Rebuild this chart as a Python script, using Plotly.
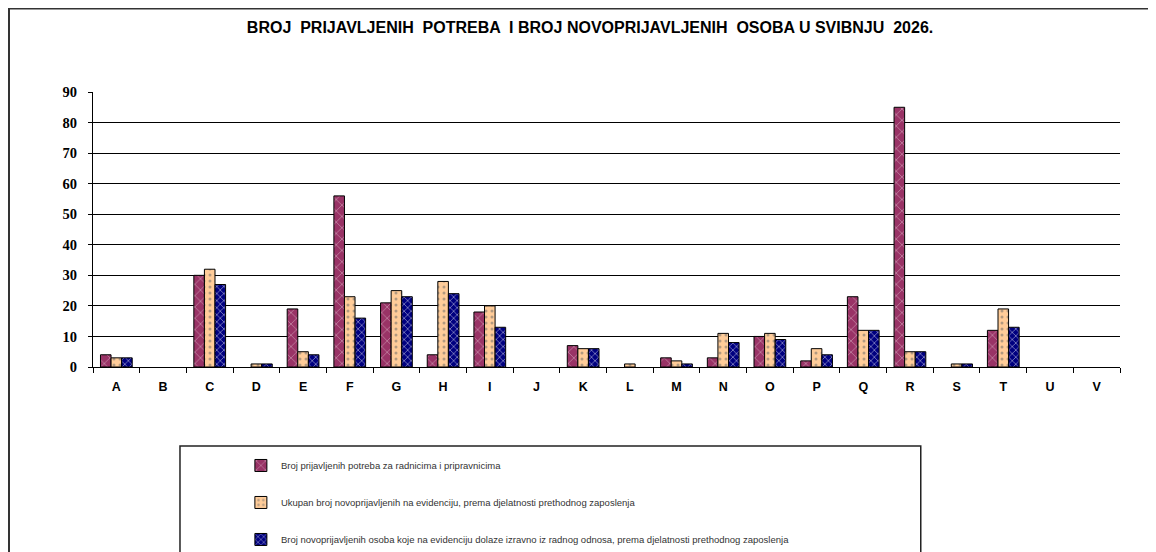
import plotly.graph_objects as go

categories = ["A", "B", "C", "D", "E", "F", "G", "H", "I", "J", "K",
              "L", "M", "N", "O", "P", "Q", "R", "S", "T", "U", "V"]
potrebe = [4, 0, 30, 0, 19, 56, 21, 4, 18, 0, 7, 0, 3, 3, 10, 2, 23, 85, 0, 12, 0, 0]
ukupno = [3, 0, 32, 1, 5, 23, 25, 28, 20, 0, 6, 1, 2, 11, 11, 6, 12, 5, 1, 19, 0, 0]
izravno = [3, 0, 27, 1, 4, 16, 23, 24, 13, 0, 6, 0, 1, 8, 9, 4, 12, 5, 1, 13, 0, 0]
names = [
    "Broj prijavljenih potreba za radnicima i pripravnicima",
    "Ukupan broj novoprijavljenih na evidenciju, prema djelatnosti prethodnog zaposlenja",
    "Broj novoprijavljenih osoba koje na evidenciju dolaze izravno iz radnog odnosa, prema djelatnosti prethodnog zaposlenja",
]
y_ticks = [0, 10, 20, 30, 40, 50, 60, 70, 80, 90]

fig = go.Figure()
styles = [
    ("#993366", "x", "white", 8, 0.15),
    ("#FFCC99", ".", "#666666", 6, 0.2),
    ("#000080", "x", "white", 5, 0.3),
]
for i, (vals, name) in enumerate(zip([potrebe, ukupno, izravno], names)):
    col, shp, fg, sz, sol = styles[i]
    # zero values are not drawn in the original
    fig.add_trace(go.Bar(
        x=categories, y=[v if v else None for v in vals], name=name, legendgroup=str(i),
        marker=dict(color=col, line=dict(color="black", width=1),
                    pattern=dict(shape=shp, fgcolor=fg, bgcolor=col, size=sz, solidity=sol)),
    ))

fig.update_layout(
    width=1148, height=544,
    margin=dict(l=85, r=36, t=84, b=185),
    paper_bgcolor="white", plot_bgcolor="white",
    barmode="group", bargap=0.32, bargroupgap=0,
    title=dict(text="<b>BROJ  PRIJAVLJENIH  POTREBA  I BROJ NOVOPRIJAVLJENIH  OSOBA U SVIBNJU  2026.</b>",
               x=0.507, xanchor="center", y=0.965, yanchor="middle",
               font=dict(family="Liberation Sans", size=16, color="black")),
    legend=dict(x=0.144, xanchor="left", y=0.1857, yanchor="top", yref="container",
                font=dict(family="Liberation Sans", size=9.5, color="#333333"),
                tracegroupgap=18, bgcolor="rgba(0,0,0,0)"),
    xaxis=dict(type="category", tickson="boundaries", ticks="outside", ticklen=5,
               tickcolor="black", showline=True, linecolor="black", linewidth=1,
               ticklabelstandoff=8,
               tickfont=dict(family="Liberation Sans", size=12.5, color="black", weight="bold"),
               showgrid=False),
    yaxis=dict(range=[0, 90], tickvals=y_ticks, ticks="outside", ticklen=4,
               tickcolor="black", showline=True, linecolor="black", linewidth=1,
               ticklabelstandoff=8,
               showgrid=True, gridcolor="black", gridwidth=1, zeroline=False,
               tickfont=dict(family="Liberation Serif", size=14.5, color="black", weight="bold")),
    shapes=[
        dict(type="rect", xref="paper", yref="paper", x0=-0.0818, x1=1.2, y0=-1.0, y1=1.3036,
             line=dict(color="#333333", width=2), fillcolor="rgba(0,0,0,0)", layer="below"),
        dict(type="rect", xref="paper", yref="paper", x0=0.0847, x1=0.806, y0=-1.0, y1=-0.287,
             line=dict(color="#222222", width=1.5), fillcolor="rgba(0,0,0,0)"),
    ],
)

fig.write_html("out.html", config={"displayModeBar": False})
